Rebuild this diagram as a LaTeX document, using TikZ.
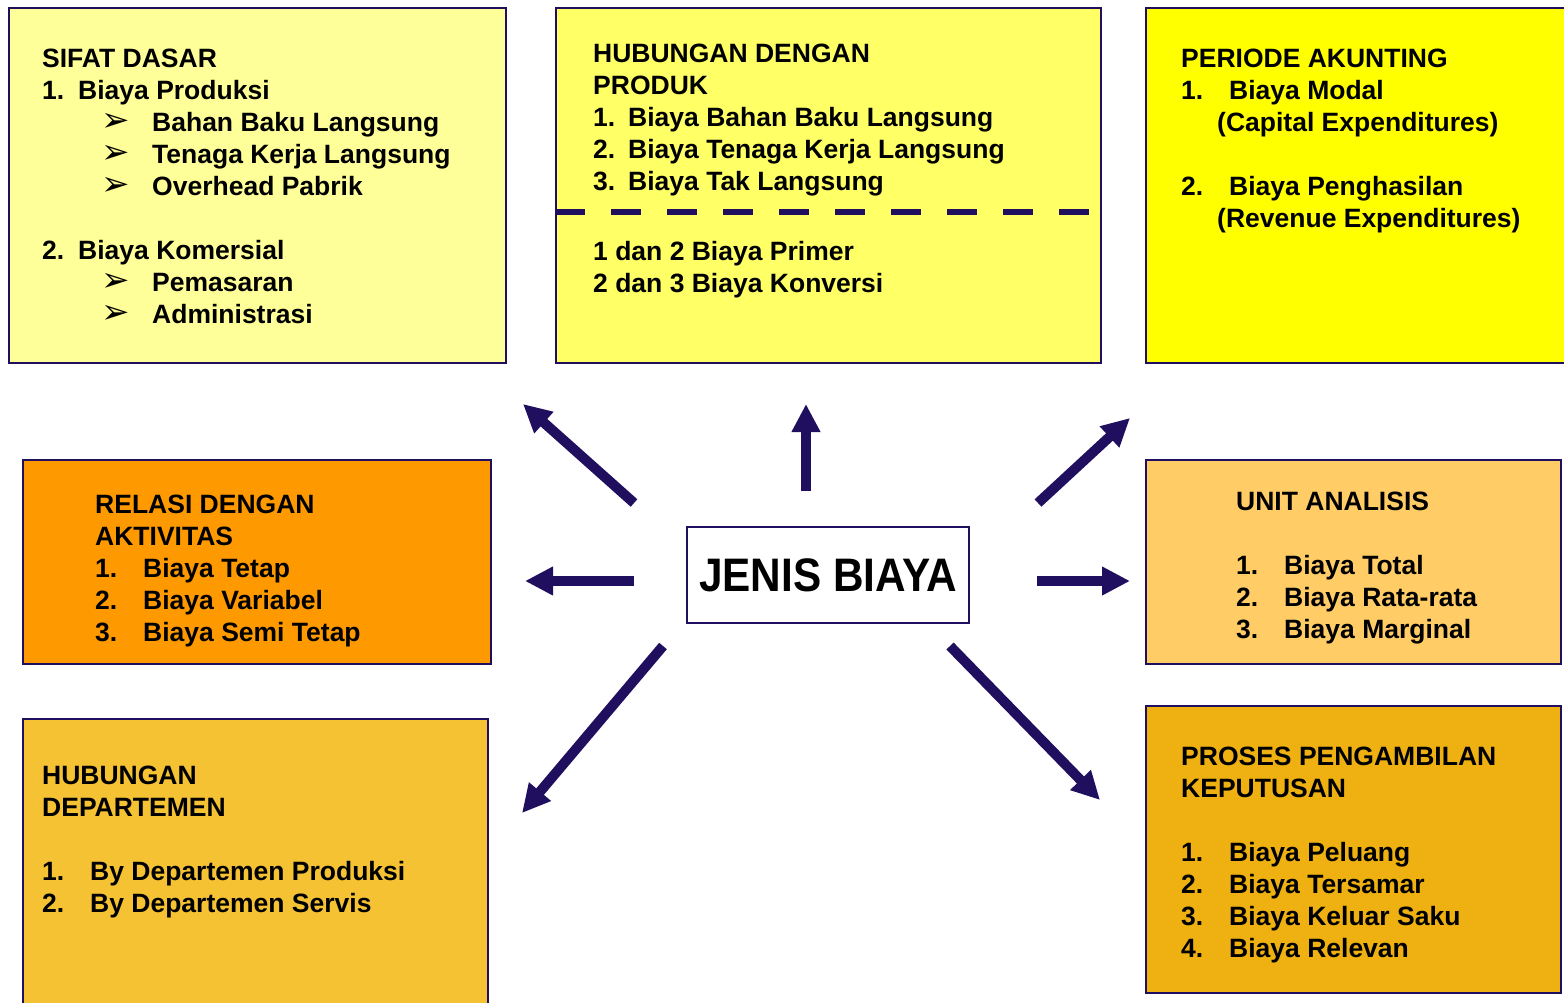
\documentclass[tikz,border=0pt]{standalone}
\usepackage{fontspec}
\setmainfont{Liberation Sans}
\newfontfamily\narrowf{Liberation Sans}[FakeStretch=0.9]
\newfontfamily\symf{DejaVu Sans}
\usetikzlibrary{arrows.meta}
\definecolor{navy}{RGB}{32,14,94}
\definecolor{cA}{HTML}{FFFF99}
\definecolor{cB}{HTML}{FFFF66}
\definecolor{cC}{HTML}{FFFF00}
\definecolor{cD}{HTML}{FF9900}
\definecolor{cE}{HTML}{FFCC66}
\definecolor{cF}{HTML}{F4C232}
\definecolor{cG}{HTML}{EEB111}
\newcommand\nb[2]{\makebox[#1pt][l]{#2}}
\newcommand\arw{{\normalfont\symf\fontsize{34}{34}\selectfont ➢}}
\begin{document}
\begin{tikzpicture}[x=1pt,y=-1pt,
  box/.style={draw=navy, line width=2pt, inner sep=0pt, anchor=north west},
  txt/.style={anchor=base west, inner sep=0pt, font=\bfseries\fontsize{26.5}{32}\selectfont},
  bigarrow/.style={draw=navy, line width=10pt, -{Triangle[width=27pt,length=28pt]}},
  dashline/.style={draw=navy, line width=6pt, dash pattern=on 30pt off 26pt}]
\useasboundingbox (0,0) rectangle (1564,1002);
\clip (0,0) rectangle (1564,1002);
% boxes
\node[box, fill=cA, minimum width=497pt, minimum height=355pt] (bA) at (8,7) {};
\node[box, fill=cB, minimum width=545pt, minimum height=355pt] (bB) at (555,7) {};
\node[box, fill=cC, minimum width=430pt, minimum height=355pt] (bC) at (1145,7) {};
\node[box, fill=cD, minimum width=468pt, minimum height=204pt] (bD) at (22,459) {};
\node[box, fill=cE, minimum width=415pt, minimum height=204pt] (bE) at (1145,459) {};
\node[box, fill=cF, minimum width=465pt, minimum height=300pt] (bF) at (22,718) {};
\node[box, fill=cG, minimum width=415pt, minimum height=287pt] (bG) at (1145,705) {};
\node[draw=navy, line width=2pt, fill=white, minimum width=282pt, minimum height=96pt, inner sep=0pt,
  font=\narrowf\bfseries\fontsize{47}{56}\selectfont] (jb) at (828,575) {JENIS BIAYA};
% dashed separator
\coordinate (dsA) at (555,212);
\coordinate (dsB) at (1090,212);
\draw[dashline] (dsA) -- (dsB);
% box A text
\node[txt] (a1) at (42,67) {SIFAT DASAR};
\node[txt] (a2) at (42,99) {\nb{36}{1.}Biaya Produksi};
\node[txt] (a3) at (101,131) {\nb{51}{\arw}Bahan Baku Langsung};
\node[txt] (a4) at (101,163) {\nb{51}{\arw}Tenaga Kerja Langsung};
\node[txt] (a5) at (101,195) {\nb{51}{\arw}Overhead Pabrik};
\node[txt] (a6) at (42,259) {\nb{36}{2.}Biaya Komersial};
\node[txt] (a7) at (101,291) {\nb{51}{\arw}Pemasaran};
\node[txt] (a8) at (101,323) {\nb{51}{\arw}Administrasi};
% box B text
\node[txt] (b1) at (593,62) {HUBUNGAN DENGAN};
\node[txt] (b2) at (593,94) {PRODUK};
\node[txt] (b3) at (593,126) {\nb{35}{1.}Biaya Bahan Baku Langsung};
\node[txt] (b4) at (593,158) {\nb{35}{2.}Biaya Tenaga Kerja Langsung};
\node[txt] (b5) at (593,190) {\nb{35}{3.}Biaya Tak Langsung};
\node[txt] (b6) at (593,260) {1 dan 2 Biaya Primer};
\node[txt] (b7) at (593,292) {2 dan 3 Biaya Konversi};
% box C text
\node[txt] (c1) at (1181,67) {PERIODE AKUNTING};
\node[txt] (c2) at (1181,99) {\nb{48}{1.}Biaya Modal};
\node[txt] (c3) at (1217,131) {(Capital Expenditures)};
\node[txt] (c4) at (1181,195) {\nb{48}{2.}Biaya Penghasilan};
\node[txt] (c5) at (1217,227) {(Revenue Expenditures)};
% box D text
\node[txt] (d1) at (95,513) {RELASI DENGAN};
\node[txt] (d2) at (95,545) {AKTIVITAS};
\node[txt] (d3) at (95,577) {\nb{48}{1.}Biaya Tetap};
\node[txt] (d4) at (95,609) {\nb{48}{2.}Biaya Variabel};
\node[txt] (d5) at (95,641) {\nb{48}{3.}Biaya Semi Tetap};
% box E text
\node[txt] (e1) at (1236,510) {UNIT ANALISIS};
\node[txt] (e2) at (1236,574) {\nb{48}{1.}Biaya Total};
\node[txt] (e3) at (1236,606) {\nb{48}{2.}Biaya Rata-rata};
\node[txt] (e4) at (1236,638) {\nb{48}{3.}Biaya Marginal};
% box F text
\node[txt] (f1) at (42,784) {HUBUNGAN};
\node[txt] (f2) at (42,816) {DEPARTEMEN};
\node[txt] (f3) at (42,880) {\nb{48}{1.}By Departemen Produksi};
\node[txt] (f4) at (42,912) {\nb{48}{2.}By Departemen Servis};
% box G text
\node[txt] (g1) at (1181,765) {PROSES PENGAMBILAN};
\node[txt] (g2) at (1181,797) {KEPUTUSAN};
\node[txt] (g3) at (1181,861) {\nb{48}{1.}Biaya Peluang};
\node[txt] (g4) at (1181,893) {\nb{48}{2.}Biaya Tersamar};
\node[txt] (g5) at (1181,925) {\nb{48}{3.}Biaya Keluar Saku};
\node[txt] (g6) at (1181,957) {\nb{48}{4.}Biaya Relevan};
% arrows
\coordinate (sU) at (806,491);  \coordinate (tU) at (806,404);
\coordinate (sUL) at (634,503); \coordinate (tUL) at (523,404);
\coordinate (sUR) at (1038,503);\coordinate (tUR) at (1130,418);
\coordinate (sL) at (634,581);  \coordinate (tL) at (525,581);
\coordinate (sR) at (1037,581); \coordinate (tR) at (1130,581);
\coordinate (sDL) at (663,646); \coordinate (tDL) at (522,813);
\coordinate (sDR) at (950,646); \coordinate (tDR) at (1100,800);
\draw[bigarrow] (sU) -- (tU);
\draw[bigarrow] (sUL) -- (tUL);
\draw[bigarrow] (sUR) -- (tUR);
\draw[bigarrow] (sL) -- (tL);
\draw[bigarrow] (sR) -- (tR);
\draw[bigarrow] (sDL) -- (tDL);
\draw[bigarrow] (sDR) -- (tDR);
\end{tikzpicture}
\end{document}
